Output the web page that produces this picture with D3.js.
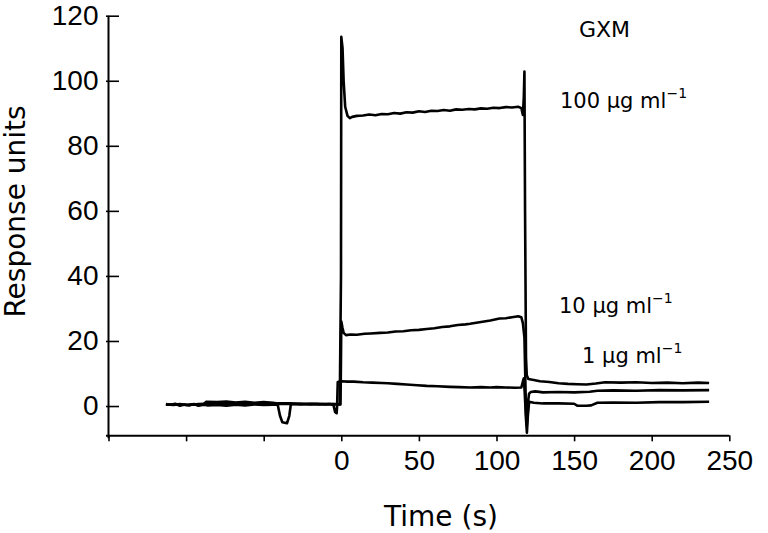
<!DOCTYPE html>
<html>
<head>
<meta charset="utf-8">
<script src="https://cdn.jsdelivr.net/npm/d3@7/dist/d3.min.js"></script>
<style>
  body { margin: 0; background: #fff; }
  svg { display: block; font-family: "DejaVu Sans", sans-serif; }
  .axis path, .axis line { stroke: #000; }
  .axis text { font-size: 28px; fill: #000; }
</style>
</head>
<body>
<svg width="768" height="533"></svg>
<script>
// sensorgram data, [time (s), response units]
const resp100 = [
  [-113, 0.6], [-110, 0.4], [-107, 0.7], [-104, 0.1], [-101, 0.5], [-98, 0.2], [-95, 0.6], [-92, 0.1],
  [-89, 0.5], [-87, 1.3], [-80, 1.2], [-74, 1.4], [-68, 1.1], [-62, 1.3], [-56, 1.0], [-50, 1.2],
  [-44, 1.0], [-41, 0.8], [-33, 0.8], [-28, 0.7], [-22, 0.6], [-16, 0.7], [-10, 0.5], [-5, 0.6],
  [-1, 0.5], [-0.2, 40], [0, 113.5], [0.8, 110], [1.5, 100], [2.5, 92], [4, 89.2], [5.5, 88.5],
  [7, 88.9], [10, 89.2], [14, 89.3], [18, 89.6], [22, 89.4], [26, 89.8], [30, 89.7], [34, 90.1],
  [38, 89.9], [42, 90.3], [46, 90.2], [50, 90.6], [54, 90.4], [58, 90.8], [62, 90.7], [66, 91.0],
  [70, 90.8], [74, 91.2], [78, 91.1], [82, 91.3], [86, 91.2], [90, 91.5], [94, 91.4], [98, 91.7],
  [102, 91.6], [106, 91.9], [110, 91.8], [114, 92.0], [116, 91.6], [117, 89.5], [117.6, 95],
  [118, 102.8], [118.4, 60], [119, 15], [119.5, 9.5], [120.5, 8.3], [124, 8.0], [128, 7.6],
  [134, 7.4], [140, 7.0], [146, 6.8], [152, 6.7], [158, 6.6], [164, 6.9], [170, 7.3], [180, 7.2],
  [190, 7.3], [200, 7.1], [210, 7.2], [220, 7.0], [230, 7.2], [237, 7.1]
];
const resp10 = [
  [-113, 0.5], [-108, 0.3], [-104, 0.6], [-100, 0.3], [-96, 0.5], [-92, 0.3], [-88, 0.4], [-86, 0.2],
  [-80, 0.3], [-74, 0.1], [-68, 0.4], [-62, 0.2], [-56, 0.5], [-50, 0.3], [-44, 0.4], [-41, 0.5],
  [-39.5, -3], [-38, -5], [-35, -5.3], [-33.5, -3], [-32.5, 0.6], [-26, 0.5], [-20, 0.7], [-14, 0.5],
  [-8, 0.6], [-2, 0.5], [-0.5, 0.5], [-0.2, 15], [0, 26], [0.8, 24], [1.5, 22.5], [3, 21.8],
  [6, 22.0], [10, 21.9], [15, 22.2], [19, 22.3], [25, 22.5], [30, 22.6], [35, 22.9], [40, 23.0],
  [45, 23.3], [50, 23.4], [55, 23.7], [60, 23.9], [65, 24.3], [70, 24.5], [75, 24.9], [80, 25.1],
  [83, 25.3], [88, 25.7], [92, 26.0], [96, 26.3], [102, 26.9], [106, 27.0], [110, 27.3],
  [114, 27.6], [116, 27.3], [117, 25.5], [118, 21], [118.5, 10], [119, -2], [119.5, -6],
  [120, -3], [120.5, 2], [121, 3.8], [122, 4.3], [125, 4.5], [130, 4.2], [140, 4.3], [150, 4.2],
  [160, 4.4], [165, 4.7], [175, 4.8], [190, 4.7], [205, 4.9], [220, 4.8], [237, 4.9]
];
const resp1 = [
  [-113, 0.4], [-106, 0.5], [-99, 0.3], [-92, 0.6], [-87, 0.7], [-81, 0.8], [-75, 0.6], [-69, 0.9],
  [-63, 0.7], [-57, 0.8], [-51, 0.6], [-45, 0.8], [-41, 0.6], [-34, 0.6], [-27, 0.7], [-20, 0.5],
  [-13, 0.6], [-7, 0.6], [-5, 0.2], [-4, -1.8], [-3, -2.2], [-2.7, 0], [-2.3, 7.4], [0, 7.6],
  [4, 7.5], [8, 7.5], [14, 7.3], [20, 7.2], [26, 7.1], [30, 7.0], [36, 6.8], [42, 6.6], [49, 6.4],
  [55, 6.2], [62, 6.1], [70, 5.9], [76, 5.8], [83, 5.7], [90, 5.8], [96, 5.7], [100, 5.8],
  [106, 5.7], [112, 5.6], [116, 5.7], [117, 7.5], [117.6, 8.5], [118.2, 4], [119, -4],
  [119.6, -8.2], [120.2, -3], [121, 1.3], [124, 1.0], [130, 0.8], [140, 0.8], [150, 0.7],
  [152, 0.1], [158, 0.1], [161, 0.2], [165, 1.0], [175, 1.1], [190, 1.0], [205, 1.2], [220, 1.2],
  [237, 1.3]
];

const seriesData = [resp100, resp10, resp1];
const concLabels = ["100 \u03bcg ml", "10 \u03bcg ml", "1 \u03bcg ml"];
const concLabelPos = [[560, 108], [559, 313], [582, 363]];
const xTicks = [-150, -100, -50, 0, 50, 100, 150, 200, 250];
const yTicks = [0, 20, 40, 60, 80, 100, 120];

let svg = d3.select("svg");
let x = d3.scaleLinear().domain([-150, 250]).range([108.5, 729.3]);
let y = d3.scaleLinear().domain([-9, 120]).range([435.3, 15.7]);

svg.append("rect").attr("width", 768).attr("height", 533).attr("fill", "#fff");

// x axis, labels only from 0 on
let xAxis = svg.append("g")
  .attr("class", "axis")
  .attr("transform", "translate(0," + y(-9) + ")")
  .call(d3.axisBottom(x).tickValues(xTicks).tickSizeInner(6).tickSizeOuter(0).tickPadding(9)
    .tickFormat(d => d >= 0 ? d : ""));
xAxis.select(".domain").attr("stroke-width", 2).attr("d", "M106," + 0.5 + "H" + x(250));
xAxis.selectAll(".tick line").attr("stroke-width", 1.6);
xAxis.selectAll(".tick text").attr("dy", "0.71em");

// y axis, ticks drawn mostly inward
let yAxis = svg.append("g")
  .attr("class", "axis")
  .attr("transform", "translate(" + x(-150) + ",0)")
  .call(d3.axisLeft(y).tickValues(yTicks).tickSizeInner(-10.5).tickSizeOuter(0).tickPadding(10));
yAxis.select(".domain").attr("stroke-width", 2).attr("d", "M0," + y(120) + "V" + (y(-9) + 3));
yAxis.selectAll(".tick line").attr("x1", -2.5).attr("stroke-width", 1.6);

// traces
let line = d3.line().x(d => x(d[0])).y(d => y(d[1]));
svg.selectAll(".trace")
  .data(seriesData)
  .enter().append("path")
  .attr("class", "trace")
  .attr("d", line)
  .attr("fill", "none")
  .attr("stroke", "#000")
  .attr("stroke-width", 2.6)
  .attr("stroke-linejoin", "round");

// annotations
svg.append("text").attr("x", 579).attr("y", 37).attr("font-size", 22).text("GXM");

concLabels.forEach((lbl, i) => {
  let t = svg.append("text")
    .attr("x", concLabelPos[i][0]).attr("y", concLabelPos[i][1])
    .attr("font-size", 21);
  t.append("tspan").text(lbl);
  t.append("tspan").attr("dy", -10).attr("font-size", 14).text("\u22121");
});

svg.append("text")
  .attr("x", 441).attr("y", 526)
  .attr("text-anchor", "middle")
  .attr("font-size", 28)
  .text("Time (s)");

svg.append("text")
  .attr("transform", "translate(25,211.5) rotate(-90)")
  .attr("text-anchor", "middle")
  .attr("font-size", 28)
  .text("Response units");
</script>
</body>
</html>
